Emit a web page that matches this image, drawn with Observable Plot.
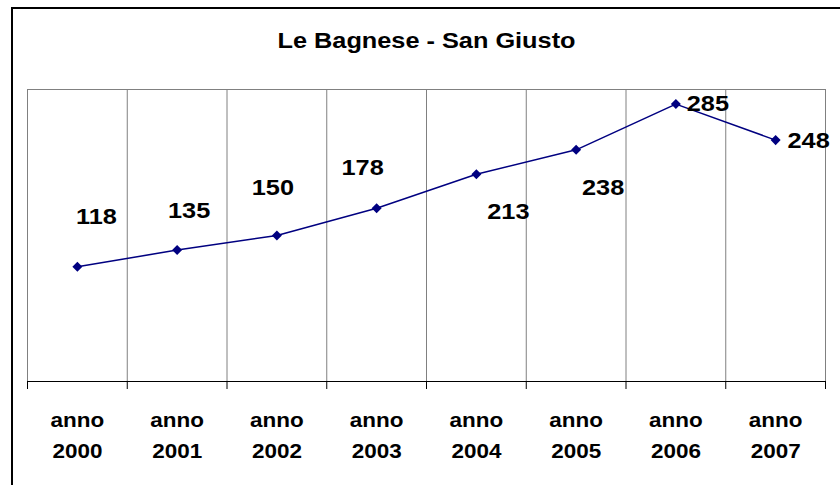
<!DOCTYPE html>
<html><head><meta charset="utf-8">
<script src="https://cdn.jsdelivr.net/npm/d3@7"></script>
<script src="https://cdn.jsdelivr.net/npm/@observablehq/plot@0.6"></script>
<style>
html,body{margin:0;padding:0;background:#fff;overflow:hidden;width:840px;height:485px}
#chart{position:relative;width:840px;height:485px}
#chart svg{position:absolute;left:0;top:0}
#frame{position:absolute;left:11px;top:7px;width:900px;height:600px;border:2px solid #000;box-sizing:border-box;pointer-events:none}
</style></head>
<body><div id="chart"><div id="frame"></div></div>
<script>
const title = "Le Bagnese - San Giusto";
const years = [2000, 2001, 2002, 2003, 2004, 2005, 2006, 2007];
const tickLabels = ["anno\n2000", "anno\n2001", "anno\n2002", "anno\n2003", "anno\n2004", "anno\n2005", "anno\n2006", "anno\n2007"];
const values = [118, 135, 150, 178, 213, 238, 285, 248];
const yDomain = [0, 300];

// label offsets (pixels) – styling, Excel-like label placement
const labelOffsets = [[19,-50],[12,-39],[-4,-48],[-14,-40],[32,38],[27,38],[32,0],[33,1]];

const data = years.map((y, i) => ({year: y, value: values[i], label: tickLabels[i]}));
const bounds = [years[0] - 0.5, ...years.map(y => y + 0.5)];
const font = "'Liberation Sans', Arial, sans-serif";

const svg = Plot.plot({
  width: 840, height: 485,
  marginTop: 89, marginBottom: 104, marginLeft: 27, marginRight: 15,
  x: {domain: [bounds[0], bounds[bounds.length - 1]], axis: null},
  y: {domain: yDomain, axis: null},
  style: {fontFamily: font, background: "transparent", overflow: "visible"},
  marks: [
    Plot.ruleX(bounds, {x: d => d, y1: yDomain[0], y2: yDomain[1], stroke: "#808080", strokeWidth: 1}),
    Plot.ruleY([yDomain[1]], {stroke: "#808080", strokeWidth: 1}),
    Plot.axisX({ticks: bounds, tickSize: 8, tickFormat: () => "", stroke: "#000", strokeOpacity: 1, label: null}),
    Plot.ruleY([yDomain[0]], {stroke: "#000", strokeWidth: 1}),
    Plot.line(data, {x: "year", y: "value", stroke: "#000080", strokeWidth: 1.5}),
    Plot.dot(data, {x: "year", y: "value", symbol: "square", rotate: 45, r: 4, fill: "#000080", stroke: "none"}),
    ...data.map((d, i) => Plot.text([d], {
      x: "year", y: "value", text: d => String(d.value),
      dx: labelOffsets[i][0], dy: labelOffsets[i][1],
      fontSize: 22, fontWeight: "bold", fill: "#000"
    })),
    Plot.text(data, {x: "year", text: "label", frameAnchor: "bottom", lineAnchor: "top", dy: 23,
      lineHeight: 1.5, fontSize: 21, fontWeight: "bold", fill: "#000"}),
    Plot.text([title], {text: d => d, frameAnchor: "top", lineAnchor: "middle", dy: -48.5, fontSize: 22, fontWeight: "bold", fill: "#000"})
  ]
});
document.getElementById("chart").appendChild(svg);

const valueStrings = values.map(String);
function stretchEl(t, k) {
  const w = t.getComputedTextLength();
  if (w > 0) {
    t.setAttribute("textLength", (w * k).toFixed(2));
    t.setAttribute("lengthAdjust", "spacingAndGlyphs");
  }
}
svg.querySelectorAll("text").forEach(t => {
  const tspans = t.querySelectorAll("tspan");
  if (tspans.length) {
    tspans.forEach(ts => stretchEl(ts, 1.07));
  } else if (t.textContent === title) {
    stretchEl(t, 1.15);
  } else if (valueStrings.includes(t.textContent)) {
    stretchEl(t, 1.15);
  }
});
</script>
</body></html>
